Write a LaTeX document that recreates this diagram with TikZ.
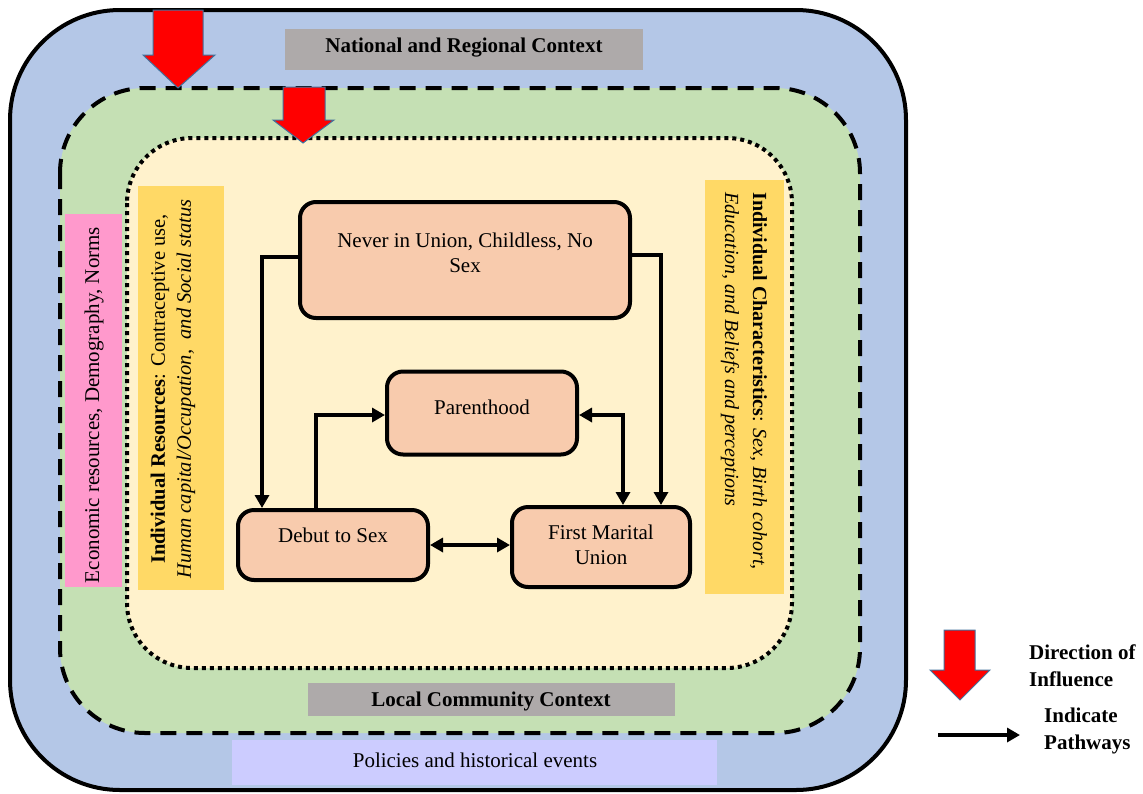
\documentclass[tikz,border=0pt]{standalone}
\usepackage{fontspec}
\setmainfont{Liberation Serif}
\usetikzlibrary{arrows.meta}
\definecolor{outerblue}{HTML}{B4C7E7}
\definecolor{midgreen}{HTML}{C5E0B4}
\definecolor{innercream}{HTML}{FFF2CC}
\definecolor{boxpeach}{HTML}{F8CBAD}
\definecolor{barYellow}{HTML}{FFD966}
\definecolor{barPink}{HTML}{FF99CC}
\definecolor{barGrey}{HTML}{AEAAAA}
\definecolor{barLilac}{HTML}{CCCCFF}
\definecolor{arrowEdge}{HTML}{41719C}
\tikzset{
  statebox/.style={draw=black, line width=4pt, fill=boxpeach, rounded corners=16pt, inner sep=0pt},
  txt/.style={font=\fontsize{21}{25}\selectfont, align=center, inner sep=0pt},
  boldtxt/.style={txt, font=\fontsize{21}{27}\selectfont\bfseries},
  path/.style={line width=3.5pt, -{Triangle[length=13pt,width=14pt]}},
  bipath/.style={line width=3.5pt, {Triangle[length=13pt,width=14pt]}-{Triangle[length=13pt,width=14pt]}},
  redarrow/.style={fill=red, draw=arrowEdge, line width=1pt, line join=miter}
}
\begin{document}
\begin{tikzpicture}[x=1pt,y=-1pt]
\useasboundingbox (0,0) rectangle (1143,793);
% context layers
\draw[fill=outerblue, line width=4pt, rounded corners=110pt] (10,10) rectangle (906,790);
\draw[fill=midgreen, line width=4pt, dash pattern=on 16pt off 10pt, rounded corners=85pt] (60,88) rectangle (860,733);
\draw[fill=innercream, line width=4pt, dash pattern=on 4pt off 4pt, rounded corners=65pt] (127,138) rectangle (792,668);

% grey/lilac labels
\fill[barGrey] (285,29) rectangle (643,70);
\node[boldtxt] (national) at (464,48) {National and Regional Context};
\fill[barGrey] (308,683) rectangle (675,716);
\node[boldtxt] (local) at (491,701) {Local Community Context};
\fill[barLilac] (232,740) rectangle (717,785);
\node[txt] (policies) at (475,760) {Policies and historical events};

% side bars
\fill[barPink] (65,214) rectangle (122,587);
\node[txt, rotate=90] (econ) at (94,405) {Economic resources, Demography, Norms};
\fill[barYellow] (138,186) rectangle (224,590);
\node[txt, rotate=90, font=\fontsize{20.5}{26}\selectfont] (resources) at (173,389) {\textbf{Individual Resources}: Contraceptive use,\\ \textit{Human capital/Occupation,\ \ and Social status}};
\fill[barYellow] (705,180) rectangle (784,594);
\node[txt, rotate=-90, align=left, font=\fontsize{20}{28}\selectfont] (characteristics) at (744,381) {\textbf{Individual Characteristics}: \textit{Sex,\ Birth cohort,}\\ \textit{Education, and Beliefs and perceptions}};

% state boxes
\node[statebox, minimum width=330pt, minimum height=116pt] (never) at (465,260) {};
\node[txt] (neverT) at (465,253) {Never in Union, Childless, No\\ Sex};
\node[statebox, minimum width=190pt, minimum height=83pt] (parent) at (482,413) {};
\node[txt] (parentT) at (482,407) {Parenthood};
\node[statebox, minimum width=190pt, minimum height=70pt] (debut) at (333,545) {};
\node[txt] (debutT) at (333,535) {Debut to Sex};
\node[statebox, minimum width=178pt, minimum height=80pt] (marital) at (601,547) {};
\node[txt] (maritalT) at (601,545) {First Marital\\ Union};

% pathways
\draw[path] (never.west |- 0,257) -| (debut.north -| 262,0);
\draw[path] (never.east |- 0,255) -| (marital.north -| 661,0);
\draw[path] (debut.north -| 316,0) |- (parent.west |- 0,415);
\draw[bipath] (parent.east |- 0,415) -| (marital.north -| 623,0);
\draw[bipath] (debut.east |- 0,545) -- (marital.west |- 0,545);

% red influence arrows
\draw[redarrow] (153,10) -- (203,10) -- (203,55) -- (215,55) -- (178,88) -- (143,55) -- (153,55) -- cycle;
\draw[redarrow] (283,87) -- (325,87) -- (325,120) -- (334,120) -- (303,143) -- (273,120) -- (283,120) -- cycle;

% legend
\draw[redarrow] (944,630) -- (975,630) -- (975,670) -- (990,670) -- (960,700) -- (930,670) -- (944,670) -- cycle;
\node[boldtxt, align=left, anchor=west] (legInfl) at (1029,666) {Direction of\\ Influence};
\coordinate (legA) at (938,735);
\coordinate (legB) at (1020,735);
\draw[path] (legA) -- (legB);
\node[boldtxt, align=left, anchor=west] (legPath) at (1044,731) {Indicate\\ Pathways};
\end{tikzpicture}
\end{document}
